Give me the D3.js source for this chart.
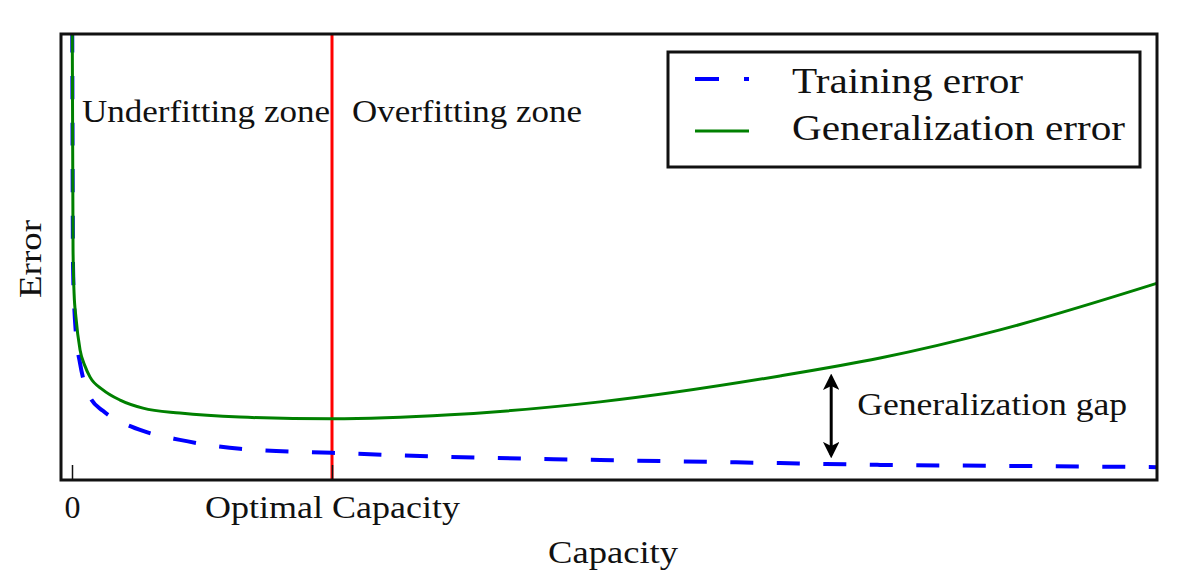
<!DOCTYPE html>
<html>
<head>
<meta charset="utf-8">
<script src="https://cdn.jsdelivr.net/npm/d3@7"></script>
<style>
  body { margin: 0; background: #fff; }
  svg text { font-family: "Liberation Serif", "DejaVu Serif", serif; fill: #111; }
</style>
</head>
<body>
<div class="chart"></div>
<script>
// capacity values (optimal capacity = 1)
const capacity = [0.001, 0.004, 0.008, 0.015, 0.031, 0.05, 0.069, 0.119, 0.185, 0.273, 0.415, 0.646, 1.0, 1.454, 2.031, 2.723, 3.108, 3.569, 4.177];
const trainingError = [101, 48, 40, 33, 26.3, 21.5, 18.8, 15.7, 13.3, 11.2, 9.2, 7.2, 6.3, 5.4, 4.7, 4.0, 3.6, 3.4, 3.1];
const generalizationError = [101, 51.7, 42, 36.7, 29.3, 25.7, 23.3, 20.4, 18.1, 16.3, 15.2, 14.3, 13.9, 14.8, 17.7, 23.5, 27.5, 33.8, 44.3];

const tickValues = [0, 1];
const tickLabels = ["0", "Optimal Capacity"];
const optimalCapacity = 1;
const gapCapacity = 2.92;
const gapRange = [5.8, 23.3];
const seriesNames = ["Training error", "Generalization error"];

const width = 1186, height = 576;
const margin = {top: 34, right: 29, bottom: 96, left: 61};

const svg = d3.select(".chart")
  .append("svg")
    .attr("width", width)
    .attr("height", height);

const xScale = d3.scaleLinear().domain([-11 / 260, 1085 / 260]).range([margin.left, width - margin.right]);
const yScale = d3.scaleLinear().domain([0, 100]).range([481, margin.top]);

svg.append("defs").append("clipPath")
    .attr("id", "plotClip")
  .append("rect")
    .attr("x", margin.left)
    .attr("y", margin.top)
    .attr("width", width - margin.right - margin.left)
    .attr("height", height - margin.bottom - margin.top);

const defs = svg.select("defs");
["arrowEnd", "arrowStart"].forEach((id, i) => {
  defs.append("marker")
      .attr("id", id)
      .attr("viewBox", "0 0 10 10")
      .attr("refX", 8)
      .attr("refY", 5)
      .attr("markerWidth", 5.5)
      .attr("markerHeight", 5.5)
      .attr("orient", i == 0 ? "auto" : "auto-start-reverse")
    .append("path")
      .attr("d", "M0,0 L10,5 L0,10 L2.5,5 Z")
      .attr("fill", "#000");
});

const pts = arr => capacity.map((c, i) => ({c: c, v: arr[i]}));

const valueline = d3.line()
  .x(d => xScale(d.c))
  .y(d => yScale(d.v))
  .curve(d3.curveMonotoneX);

const plot = svg.append("g").attr("clip-path", "url(#plotClip)");

// red optimal capacity line
plot.append("line")
  .attr("x1", xScale(optimalCapacity))
  .attr("x2", xScale(optimalCapacity))
  .attr("y1", margin.top)
  .attr("y2", height - margin.bottom)
  .attr("stroke", "#ff0000")
  .attr("stroke-width", 3);

plot.append("path")
  .datum(pts(trainingError))
  .attr("d", valueline)
  .attr("fill", "none")
  .attr("stroke", "#0000ff")
  .attr("stroke-width", 4)
  .attr("stroke-dasharray", "23,23.5");

plot.append("path")
  .datum(pts(generalizationError))
  .attr("d", valueline)
  .attr("fill", "none")
  .attr("stroke", "#008000")
  .attr("stroke-width", 3);

// x axis
const xAxis = g => g
  .attr("transform", `translate(0, ${height - margin.bottom})`)
  .call(d3.axisBottom(xScale)
    .tickValues(tickValues)
    .tickFormat((d, i) => tickLabels[i])
    .tickSizeInner(-15)
    .tickSizeOuter(0));

svg.append("g").call(xAxis)
  .call(g => g.select(".domain").remove())
  .call(g => g.selectAll(".tick line").attr("stroke", "#111").attr("stroke-width", 1.5))
  .call(g => g.selectAll(".tick text")
    .attr("y", 38)
    .attr("dy", 0)
    .attr("font-size", 31)
    .attr("textLength", (d, i) => i == 0 ? 16 : 255)
    .attr("lengthAdjust", "spacingAndGlyphs"));

// frame
svg.append("rect")
  .attr("x", margin.left)
  .attr("y", margin.top)
  .attr("width", width - margin.right - margin.left)
  .attr("height", height - margin.bottom - margin.top)
  .attr("fill", "none")
  .attr("stroke", "#111")
  .attr("stroke-width", 3);

// zone labels
const label = (txt, x, y, size, len, anchor) => svg.append("text")
  .attr("x", x)
  .attr("y", y)
  .attr("font-size", size)
  .attr("text-anchor", anchor || "start")
  .attr("textLength", len)
  .attr("lengthAdjust", "spacingAndGlyphs")
  .text(txt);

label("Underfitting zone", xScale(optimalCapacity) - 250, 122, 31, 248);
label("Overfitting zone", xScale(optimalCapacity) + 20, 122, 31, 230);

// gap arrow
svg.append("line")
  .attr("x1", xScale(gapCapacity))
  .attr("x2", xScale(gapCapacity))
  .attr("y1", yScale(gapRange[1]))
  .attr("y2", yScale(gapRange[0]))
  .attr("stroke", "#000")
  .attr("stroke-width", 3)
  .attr("marker-start", "url(#arrowStart)")
  .attr("marker-end", "url(#arrowEnd)");

label("Generalization gap", xScale(gapCapacity) + 26, 415, 31, 270);

// axis titles
label("Capacity", (margin.left + width - margin.right) / 2 + 4, 563, 31, 130, "middle");
svg.append("text")
  .attr("transform", `translate(41, ${(margin.top + height - margin.bottom) / 2 + 2}) rotate(-90)`)
  .attr("text-anchor", "middle")
  .attr("font-size", 31)
  .attr("textLength", 78)
  .attr("lengthAdjust", "spacingAndGlyphs")
  .text("Error");

// legend
const legend = svg.append("g");
legend.append("rect")
  .attr("x", 668)
  .attr("y", 52)
  .attr("width", 472)
  .attr("height", 115)
  .attr("fill", "#fff")
  .attr("stroke", "#111")
  .attr("stroke-width", 3);

const legendStyles = [
  {color: "#0000ff", width: 4, dash: "24,25"},
  {color: "#008000", width: 3, dash: null}
];
const legendLens = [231, 333];

seriesNames.forEach((name, i) => {
  const y = 79 + i * 52;
  legend.append("line")
    .attr("x1", 695)
    .attr("x2", 749)
    .attr("y1", y)
    .attr("y2", y)
    .attr("stroke", legendStyles[i].color)
    .attr("stroke-width", legendStyles[i].width)
    .attr("stroke-dasharray", legendStyles[i].dash);
  legend.append("text")
    .attr("x", 792)
    .attr("y", 93 + i * 47)
    .attr("font-size", 35)
    .attr("textLength", legendLens[i])
    .attr("lengthAdjust", "spacingAndGlyphs")
    .text(name);
});
</script>
</body>
</html>
